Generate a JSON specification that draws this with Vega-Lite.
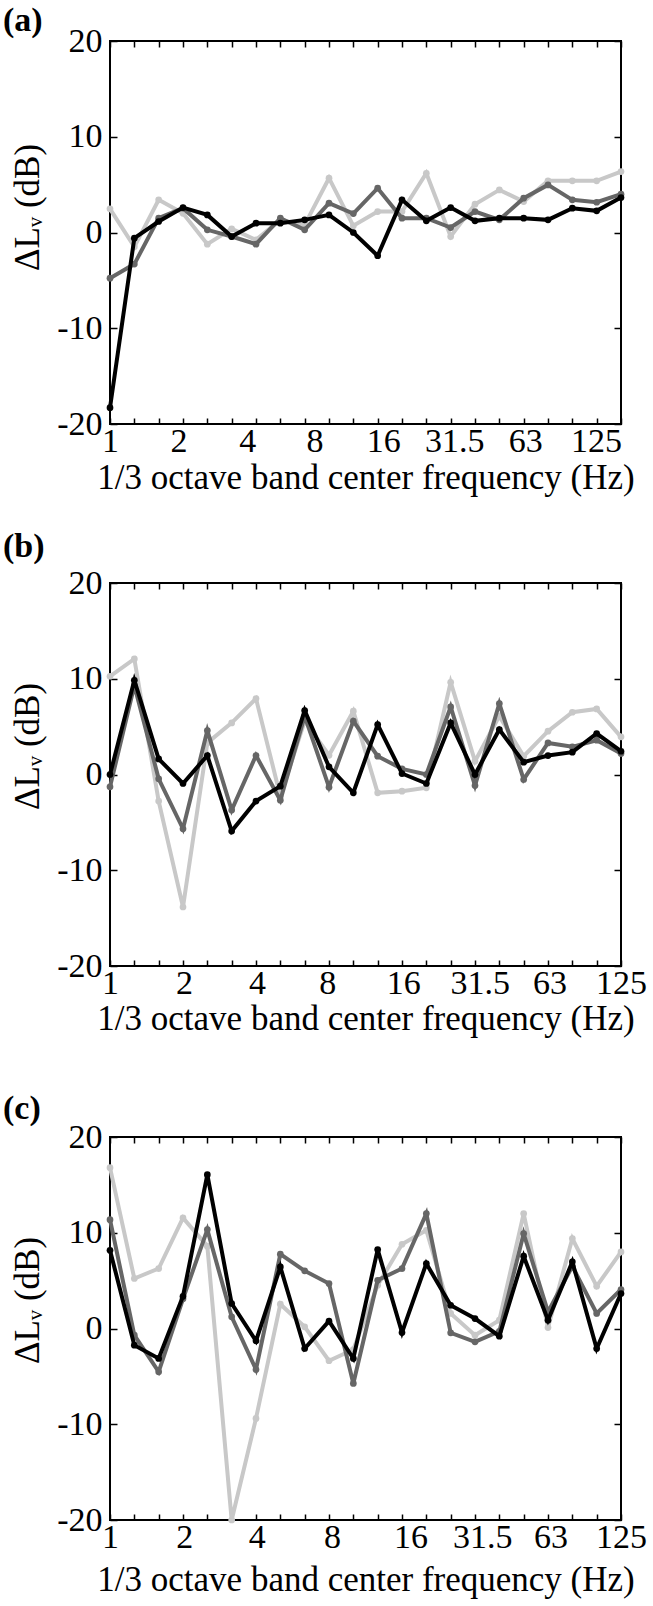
{
"$schema": "https://vega.github.io/schema/vega-lite/v6.json",
"padding": {"left": 2, "top": 3, "right": 2, "bottom": 2},
"config": {
  "font": "Liberation Serif",
  "view": {"stroke": "#000", "strokeWidth": 2},
  "axis": {"grid": false, "domain": false, "labelColor": "#000", "titleColor": "#000", "tickColor": "#000", "labelFont": "Liberation Serif", "titleFont": "Liberation Serif", "labelFontSize": 34, "titleFontSize": 35, "titleFontWeight": "normal", "tickWidth": 1.5},
  "title": {"font": "Liberation Serif", "fontSize": 34, "fontWeight": "bold", "color": "#000", "anchor": "start", "frame": "group"}
},
"datasets": {
"a": [
{"series":"s1","band":0,"freq":1,"dB":2.47},{"series":"s1","band":1,"freq":1.25,"dB":-1.5},{"series":"s1","band":2,"freq":1.6,"dB":3.41},{"series":"s1","band":3,"freq":2,"dB":2.0},{"series":"s1","band":4,"freq":2.5,"dB":-1.22},{"series":"s1","band":5,"freq":3.15,"dB":0.38},{"series":"s1","band":6,"freq":4,"dB":-0.77},{"series":"s1","band":7,"freq":5,"dB":1.32},{"series":"s1","band":8,"freq":6.3,"dB":0.8},{"series":"s1","band":9,"freq":8,"dB":5.67},{"series":"s1","band":10,"freq":10,"dB":0.7},{"series":"s1","band":11,"freq":12.5,"dB":2.19},{"series":"s1","band":12,"freq":16,"dB":2.19},{"series":"s1","band":13,"freq":20,"dB":6.19},{"series":"s1","band":14,"freq":25,"dB":-0.42},{"series":"s1","band":15,"freq":31.5,"dB":2.96},{"series":"s1","band":16,"freq":40,"dB":4.45},{"series":"s1","band":17,"freq":50,"dB":3.23},{"series":"s1","band":18,"freq":63,"dB":5.4},{"series":"s1","band":19,"freq":80,"dB":5.4},{"series":"s1","band":20,"freq":100,"dB":5.4},{"series":"s1","band":21,"freq":125,"dB":6.36},
{"series":"s2","band":0,"freq":1,"dB":-4.77},{"series":"s2","band":1,"freq":1.25,"dB":-3.3},{"series":"s2","band":2,"freq":1.6,"dB":1.5},{"series":"s2","band":3,"freq":2,"dB":2.54},{"series":"s2","band":4,"freq":2.5,"dB":0.28},{"series":"s2","band":5,"freq":3.15,"dB":-0.42},{"series":"s2","band":6,"freq":4,"dB":-1.22},{"series":"s2","band":7,"freq":5,"dB":1.5},{"series":"s2","band":8,"freq":6.3,"dB":0.28},{"series":"s2","band":9,"freq":8,"dB":3.06},{"series":"s2","band":10,"freq":10,"dB":1.98},{"series":"s2","band":11,"freq":12.5,"dB":4.63},{"series":"s2","band":12,"freq":16,"dB":1.5},{"series":"s2","band":13,"freq":20,"dB":1.5},{"series":"s2","band":14,"freq":25,"dB":0.52},{"series":"s2","band":15,"freq":31.5,"dB":2.19},{"series":"s2","band":16,"freq":40,"dB":1.32},{"series":"s2","band":17,"freq":50,"dB":3.58},{"series":"s2","band":18,"freq":63,"dB":4.97},{"series":"s2","band":19,"freq":80,"dB":3.41},{"series":"s2","band":20,"freq":100,"dB":3.16},{"series":"s2","band":21,"freq":125,"dB":4.0},
{"series":"s3","band":0,"freq":1,"dB":-18.3},{"series":"s3","band":1,"freq":1.25,"dB":-0.59},{"series":"s3","band":2,"freq":1.6,"dB":1.15},{"series":"s3","band":3,"freq":2,"dB":2.6},{"series":"s3","band":4,"freq":2.5,"dB":1.84},{"series":"s3","band":5,"freq":3.15,"dB":-0.42},{"series":"s3","band":6,"freq":4,"dB":0.97},{"series":"s3","band":7,"freq":5,"dB":0.97},{"series":"s3","band":8,"freq":6.3,"dB":1.32},{"series":"s3","band":9,"freq":8,"dB":1.84},{"series":"s3","band":10,"freq":10,"dB":0.0},{"series":"s3","band":11,"freq":12.5,"dB":-2.43},{"series":"s3","band":12,"freq":16,"dB":3.41},{"series":"s3","band":13,"freq":20,"dB":1.22},{"series":"s3","band":14,"freq":25,"dB":2.6},{"series":"s3","band":15,"freq":31.5,"dB":1.22},{"series":"s3","band":16,"freq":40,"dB":1.5},{"series":"s3","band":17,"freq":50,"dB":1.5},{"series":"s3","band":18,"freq":63,"dB":1.32},{"series":"s3","band":19,"freq":80,"dB":2.54},{"series":"s3","band":20,"freq":100,"dB":2.26},{"series":"s3","band":21,"freq":125,"dB":3.65}
],
"b": [
{"series":"s1","band":0,"freq":1,"dB":10.26},{"series":"s1","band":1,"freq":1.25,"dB":12.07},{"series":"s1","band":2,"freq":1.6,"dB":-2.78},{"series":"s1","band":3,"freq":2,"dB":-13.84},{"series":"s1","band":4,"freq":2.5,"dB":3.3},{"series":"s1","band":5,"freq":3.15,"dB":5.39},{"series":"s1","band":6,"freq":4,"dB":7.93},{"series":"s1","band":7,"freq":5,"dB":-2.26},{"series":"s1","band":8,"freq":6.3,"dB":5.57},{"series":"s1","band":9,"freq":8,"dB":2.02},{"series":"s1","band":10,"freq":10,"dB":6.61},{"series":"s1","band":11,"freq":12.5,"dB":-1.91},{"series":"s1","band":12,"freq":16,"dB":-1.74},{"series":"s1","band":13,"freq":20,"dB":-1.39},{"series":"s1","band":14,"freq":25,"dB":9.63},{"series":"s1","band":15,"freq":31.5,"dB":1.39},{"series":"s1","band":16,"freq":40,"dB":6.1},{"series":"s1","band":17,"freq":50,"dB":1.91},{"series":"s1","band":18,"freq":63,"dB":4.52},{"series":"s1","band":19,"freq":80,"dB":6.5},{"series":"s1","band":20,"freq":100,"dB":6.85},{"series":"s1","band":21,"freq":125,"dB":3.93},
{"series":"s2","band":0,"freq":1,"dB":-1.29},{"series":"s2","band":1,"freq":1.25,"dB":9.3},{"series":"s2","band":2,"freq":1.6,"dB":-0.45},{"series":"s2","band":3,"freq":2,"dB":-5.67},{"series":"s2","band":4,"freq":2.5,"dB":4.59},{"series":"s2","band":5,"freq":3.15,"dB":-3.72},{"series":"s2","band":6,"freq":4,"dB":1.98},{"series":"s2","band":7,"freq":5,"dB":-2.68},{"series":"s2","band":8,"freq":6.3,"dB":6.1},{"series":"s2","band":9,"freq":8,"dB":-1.32},{"series":"s2","band":10,"freq":10,"dB":5.57},{"series":"s2","band":11,"freq":12.5,"dB":1.91},{"series":"s2","band":12,"freq":16,"dB":0.59},{"series":"s2","band":13,"freq":20,"dB":0.0},{"series":"s2","band":14,"freq":25,"dB":7.06},{"series":"s2","band":15,"freq":31.5,"dB":-1.15},{"series":"s2","band":16,"freq":40,"dB":7.41},{"series":"s2","band":17,"freq":50,"dB":-0.52},{"series":"s2","band":18,"freq":63,"dB":3.3},{"series":"s2","band":19,"freq":80,"dB":2.89},{"series":"s2","band":20,"freq":100,"dB":3.58},{"series":"s2","band":21,"freq":125,"dB":2.19},
{"series":"s3","band":0,"freq":1,"dB":0.0},{"series":"s3","band":1,"freq":1.25,"dB":9.84},{"series":"s3","band":2,"freq":1.6,"dB":1.63},{"series":"s3","band":3,"freq":2,"dB":-0.94},{"series":"s3","band":4,"freq":2.5,"dB":1.98},{"series":"s3","band":5,"freq":3.15,"dB":-5.91},{"series":"s3","band":6,"freq":4,"dB":-2.78},{"series":"s3","band":7,"freq":5,"dB":-1.22},{"series":"s3","band":8,"freq":6.3,"dB":6.68},{"series":"s3","band":9,"freq":8,"dB":0.8},{"series":"s3","band":10,"freq":10,"dB":-1.91},{"series":"s3","band":11,"freq":12.5,"dB":5.22},{"series":"s3","band":12,"freq":16,"dB":0.1},{"series":"s3","band":13,"freq":20,"dB":-0.94},{"series":"s3","band":14,"freq":25,"dB":5.39},{"series":"s3","band":15,"freq":31.5,"dB":0.0},{"series":"s3","band":16,"freq":40,"dB":4.7},{"series":"s3","band":17,"freq":50,"dB":1.29},{"series":"s3","band":18,"freq":63,"dB":1.98},{"series":"s3","band":19,"freq":80,"dB":2.33},{"series":"s3","band":20,"freq":100,"dB":4.28},{"series":"s3","band":21,"freq":125,"dB":2.43}
],
"c": [
{"series":"s1","band":0,"freq":1,"dB":16.8},{"series":"s1","band":1,"freq":1.25,"dB":5.22},{"series":"s1","band":2,"freq":1.6,"dB":6.26},{"series":"s1","band":3,"freq":2,"dB":11.55},{"series":"s1","band":4,"freq":2.5,"dB":8.6},{"series":"s1","band":5,"freq":3.15,"dB":-20.0},{"series":"s1","band":6,"freq":4,"dB":-9.39},{"series":"s1","band":7,"freq":5,"dB":2.54},{"series":"s1","band":8,"freq":6.3,"dB":0.17},{"series":"s1","band":9,"freq":8,"dB":-3.37},{"series":"s1","band":10,"freq":10,"dB":-2.2},{"series":"s1","band":11,"freq":12.5,"dB":4.52},{"series":"s1","band":12,"freq":16,"dB":8.8},{"series":"s1","band":13,"freq":20,"dB":10.26},{"series":"s1","band":14,"freq":25,"dB":1.57},{"series":"s1","band":15,"freq":31.5,"dB":-0.7},{"series":"s1","band":16,"freq":40,"dB":0.87},{"series":"s1","band":17,"freq":50,"dB":12.0},{"series":"s1","band":18,"freq":63,"dB":0.1},{"series":"s1","band":19,"freq":80,"dB":9.39},{"series":"s1","band":20,"freq":100,"dB":4.42},{"series":"s1","band":21,"freq":125,"dB":8.0},
{"series":"s2","band":0,"freq":1,"dB":11.37},{"series":"s2","band":1,"freq":1.25,"dB":-0.7},{"series":"s2","band":2,"freq":1.6,"dB":-4.52},{"series":"s2","band":3,"freq":2,"dB":3.1},{"series":"s2","band":4,"freq":2.5,"dB":10.33},{"series":"s2","band":5,"freq":3.15,"dB":1.22},{"series":"s2","band":6,"freq":4,"dB":-4.28},{"series":"s2","band":7,"freq":5,"dB":7.76},{"series":"s2","band":8,"freq":6.3,"dB":6.02},{"series":"s2","band":9,"freq":8,"dB":4.7},{"series":"s2","band":10,"freq":10,"dB":-5.74},{"series":"s2","band":11,"freq":12.5,"dB":5.04},{"series":"s2","band":12,"freq":16,"dB":6.26},{"series":"s2","band":13,"freq":20,"dB":12.0},{"series":"s2","band":14,"freq":25,"dB":-0.45},{"series":"s2","band":15,"freq":31.5,"dB":-1.39},{"series":"s2","band":16,"freq":40,"dB":-0.3},{"series":"s2","band":17,"freq":50,"dB":9.91},{"series":"s2","band":18,"freq":63,"dB":1.74},{"series":"s2","band":19,"freq":80,"dB":6.5},{"series":"s2","band":20,"freq":100,"dB":1.57},{"series":"s2","band":21,"freq":125,"dB":4.07},
{"series":"s3","band":0,"freq":1,"dB":8.17},{"series":"s3","band":1,"freq":1.25,"dB":-1.74},{"series":"s3","band":2,"freq":1.6,"dB":-3.13},{"series":"s3","band":3,"freq":2,"dB":3.37},{"series":"s3","band":4,"freq":2.5,"dB":16.07},{"series":"s3","band":5,"freq":3.15,"dB":2.61},{"series":"s3","band":6,"freq":4,"dB":-1.29},{"series":"s3","band":7,"freq":5,"dB":6.43},{"series":"s3","band":8,"freq":6.3,"dB":-2.09},{"series":"s3","band":9,"freq":8,"dB":0.77},{"series":"s3","band":10,"freq":10,"dB":-3.13},{"series":"s3","band":11,"freq":12.5,"dB":8.24},{"series":"s3","band":12,"freq":16,"dB":-0.42},{"series":"s3","band":13,"freq":20,"dB":6.78},{"series":"s3","band":14,"freq":25,"dB":2.43},{"series":"s3","band":15,"freq":31.5,"dB":1.04},{"series":"s3","band":16,"freq":40,"dB":-0.8},{"series":"s3","band":17,"freq":50,"dB":7.55},{"series":"s3","band":18,"freq":63,"dB":0.87},{"series":"s3","band":19,"freq":80,"dB":6.96},{"series":"s3","band":20,"freq":100,"dB":-2.09},{"series":"s3","band":21,"freq":125,"dB":3.65}
]
},
"vconcat": [
{"vconcat": [
{
 "title": {"text": "(a)", "dx": -107, "offset": -14},
 "width": 511, "height": 383,
 "data": {"name": "a"},
 "layer": [
  {"transform": [{"filter": "datum.series === 's1'"}],
   "mark": {"type": "line", "color": "#c8c8c8", "strokeWidth": 4, "point": {"filled": true, "size": 45, "color": "#c8c8c8"}},
   "encoding": {
    "x": {"field": "band", "type": "quantitative", "scale": {"domain": [0, 21], "nice": false, "zero": false}, "axis": {"orient": "bottom", "values": [0,1,2,3,4,5,6,7,8,9,10,11,12,13,14,15,16,17,18,19,20,21], "labels": false, "tickSize": -6, "title": null}},
    "y": {"field": "dB", "type": "quantitative", "scale": {"domain": [-20, 20], "nice": false, "zero": false}, "axis": {"orient": "left", "values": [-20,-10,0,10,20], "ticks": false, "tickSize": 0, "labelPadding": 8, "labelExpr": "'' + datum.value", "title": "ΔLᵥ (dB)", "titlePadding": 11, "titleY": 166}}
   }},
  {"transform": [{"filter": "datum.series === 's2'"}],
   "mark": {"type": "line", "color": "#666666", "strokeWidth": 4, "point": {"filled": true, "size": 45, "color": "#666666"}},
   "encoding": {
    "x": {"field": "band", "type": "quantitative", "scale": {"domain": [0, 21], "nice": false, "zero": false}, "axis": {"orient": "bottom", "values": [0, 2.82, 5.64, 8.4, 11.23, 14.15, 17.07, 19.97], "ticks": false, "tickSize": 0, "labelPadding": 0, "labelOverlap": false, "labelBound": false, "labelFlush": false, "labelExpr": "['1','2','4','8','16','31.5','63','125'][round(datum.value / 2.85)]", "title": "1/3 octave band center frequency (Hz)", "titlePadding": 2}},
    "y": {"field": "dB", "type": "quantitative", "scale": {"domain": [-20, 20], "nice": false, "zero": false}, "axis": {"orient": "right", "values": [-20,-10,0,10,20], "labels": false, "tickSize": -7, "title": null}}
   }},
  {"transform": [{"filter": "datum.series === 's3'"}],
   "mark": {"type": "line", "color": "#000000", "strokeWidth": 4, "point": {"filled": true, "size": 45, "color": "#000000"}},
   "encoding": {
    "x": {"field": "band", "type": "quantitative", "scale": {"domain": [0, 21], "nice": false, "zero": false}, "axis": {"orient": "top", "values": [0,1,2,3,4,5,6,7,8,9,10,11,12,13,14,15,16,17,18,19,20,21], "labels": false, "tickSize": -6, "title": null}},
    "y": {"field": "dB", "type": "quantitative", "scale": {"domain": [-20, 20], "nice": false, "zero": false}, "axis": {"orient": "left", "values": [-20,-10,0,10,20], "labels": false, "tickSize": -7, "title": null}}
   }}
 ],
 "resolve": {"axis": {"x": "independent", "y": "independent"}}
},
{
 "title": {"text": "(b)", "dx": -107, "offset": 2},
 "width": 511, "height": 383,
 "data": {"name": "b"},
 "layer": [
  {"transform": [{"filter": "datum.series === 's1'"}],
   "mark": {"type": "line", "color": "#c8c8c8", "strokeWidth": 4, "point": {"filled": true, "size": 45, "color": "#c8c8c8"}},
   "encoding": {
    "x": {"field": "band", "type": "quantitative", "scale": {"domain": [0, 21], "nice": false, "zero": false}, "axis": {"orient": "bottom", "values": [0,1,2,3,4,5,6,7,8,9,10,11,12,13,14,15,16,17,18,19,20,21], "labels": false, "tickSize": -6, "title": null}},
    "y": {"field": "dB", "type": "quantitative", "scale": {"domain": [-20, 20], "nice": false, "zero": false}, "axis": {"orient": "left", "values": [-20,-10,0,10,20], "ticks": false, "tickSize": 0, "labelPadding": 8, "labelExpr": "'' + datum.value", "title": "ΔLᵥ (dB)", "titlePadding": 11, "titleY": 163}}
   }},
  {"transform": [{"filter": "datum.series === 's2'"}],
   "mark": {"type": "line", "color": "#666666", "strokeWidth": 4, "point": {"filled": true, "size": 45, "color": "#666666"}},
   "encoding": {
    "x": {"field": "band", "type": "quantitative", "scale": {"domain": [0, 21], "nice": false, "zero": false}, "axis": {"orient": "bottom", "values": [0, 3.04, 6.04, 8.93, 12.05, 15.2, 18.06, 21], "ticks": false, "tickSize": 0, "labelPadding": 0, "labelOverlap": false, "labelBound": false, "labelFlush": false, "labelExpr": "['1','2','4','8','16','31.5','63','125'][round(datum.value / 3)]", "title": "1/3 octave band center frequency (Hz)", "titlePadding": 1}},
    "y": {"field": "dB", "type": "quantitative", "scale": {"domain": [-20, 20], "nice": false, "zero": false}, "axis": {"orient": "right", "values": [-20,-10,0,10,20], "labels": false, "tickSize": -7, "title": null}}
   }},
  {"transform": [{"filter": "datum.series === 's3'"}],
   "mark": {"type": "line", "color": "#000000", "strokeWidth": 4, "point": {"filled": true, "size": 45, "color": "#000000"}},
   "encoding": {
    "x": {"field": "band", "type": "quantitative", "scale": {"domain": [0, 21], "nice": false, "zero": false}, "axis": {"orient": "top", "values": [0,1,2,3,4,5,6,7,8,9,10,11,12,13,14,15,16,17,18,19,20,21], "labels": false, "tickSize": -6, "title": null}},
    "y": {"field": "dB", "type": "quantitative", "scale": {"domain": [-20, 20], "nice": false, "zero": false}, "axis": {"orient": "left", "values": [-20,-10,0,10,20], "labels": false, "tickSize": -7, "title": null}}
   }}
 ],
 "resolve": {"axis": {"x": "independent", "y": "independent"}}
}
], "spacing": 33},
{
 "title": {"text": "(c)", "dx": -107, "offset": -6},
 "width": 511, "height": 383,
 "data": {"name": "c"},
 "layer": [
  {"transform": [{"filter": "datum.series === 's1'"}],
   "mark": {"type": "line", "color": "#c8c8c8", "strokeWidth": 4, "point": {"filled": true, "size": 45, "color": "#c8c8c8"}},
   "encoding": {
    "x": {"field": "band", "type": "quantitative", "scale": {"domain": [0, 21], "nice": false, "zero": false}, "axis": {"orient": "bottom", "values": [0,1,2,3,4,5,6,7,8,9,10,11,12,13,14,15,16,17,18,19,20,21], "labels": false, "tickSize": -6, "title": null}},
    "y": {"field": "dB", "type": "quantitative", "scale": {"domain": [-20, 20], "nice": false, "zero": false}, "axis": {"orient": "left", "values": [-20,-10,0,10,20], "ticks": false, "tickSize": 0, "labelPadding": 8, "labelExpr": "'' + datum.value", "title": "ΔLᵥ (dB)", "titlePadding": 11, "titleY": 163}}
   }},
  {"transform": [{"filter": "datum.series === 's2'"}],
   "mark": {"type": "line", "color": "#666666", "strokeWidth": 4, "point": {"filled": true, "size": 45, "color": "#666666"}},
   "encoding": {
    "x": {"field": "band", "type": "quantitative", "scale": {"domain": [0, 21], "nice": false, "zero": false}, "axis": {"orient": "bottom", "values": [0, 3.05, 6.03, 9.12, 12.35, 15.3, 18.1, 21], "ticks": false, "tickSize": 0, "labelPadding": 0, "labelOverlap": false, "labelBound": false, "labelFlush": false, "labelExpr": "['1','2','4','8','16','31.5','63','125'][round(datum.value / 3)]", "title": "1/3 octave band center frequency (Hz)", "titlePadding": 8}},
    "y": {"field": "dB", "type": "quantitative", "scale": {"domain": [-20, 20], "nice": false, "zero": false}, "axis": {"orient": "right", "values": [-20,-10,0,10,20], "labels": false, "tickSize": -7, "title": null}}
   }},
  {"transform": [{"filter": "datum.series === 's3'"}],
   "mark": {"type": "line", "color": "#000000", "strokeWidth": 4, "point": {"filled": true, "size": 45, "color": "#000000"}},
   "encoding": {
    "x": {"field": "band", "type": "quantitative", "scale": {"domain": [0, 21], "nice": false, "zero": false}, "axis": {"orient": "top", "values": [0,1,2,3,4,5,6,7,8,9,10,11,12,13,14,15,16,17,18,19,20,21], "labels": false, "tickSize": -6, "title": null}},
    "y": {"field": "dB", "type": "quantitative", "scale": {"domain": [-20, 20], "nice": false, "zero": false}, "axis": {"orient": "left", "values": [-20,-10,0,10,20], "labels": false, "tickSize": -7, "title": null}}
   }}
 ],
 "resolve": {"axis": {"x": "independent", "y": "independent"}}
}
],
"spacing": 54
}
